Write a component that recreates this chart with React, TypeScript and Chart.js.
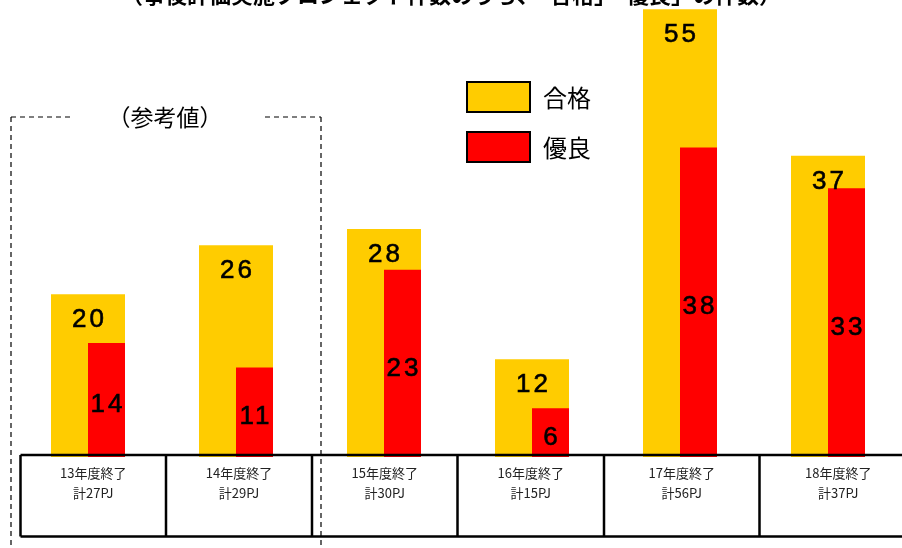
import { useEffect, useRef } from 'react';
import { Chart, registerables } from 'chart.js';

Chart.register(...registerables);

// ---- data ----
const categories = ['13年度終了', '14年度終了', '15年度終了', '16年度終了', '17年度終了', '18年度終了'];
const totalProjects = [27, 29, 30, 15, 56, 37];
const passCounts = [20, 26, 28, 12, 55, 37];
const excellentCounts = [14, 11, 23, 6, 38, 33];
const seriesNames = ['合格', '優良'];
const titleText = '（事後評価実施プロジェクト件数のうち、「合格」「優良」の件数）';
const referenceNote = '（参考値）';

// ---- layout / style constants ----
const YELLOW = '#FFCC00';
const RED = '#FF0000';
const tableEdges = [20.5, 166, 312, 457.5, 604, 759.5, 917];
const JP = '"Noto Sans CJK JP", "Noto Sans", sans-serif';

const overlayPlugin = {
  id: 'overlay',
  afterDraw(chart: any) {
    const ctx: CanvasRenderingContext2D = chart.ctx;
    ctx.save();

    // title (mostly cut off at top)
    ctx.fillStyle = '#000';
    ctx.font = `bold 22px ${JP}`;
    ctx.textAlign = 'center';
    ctx.textBaseline = 'alphabetic';
    ctx.fillText(titleText, 451, 3);

    // value labels
    const redMeta = chart.getDatasetMeta(1);
    const yellowMeta = chart.getDatasetMeta(2);
    ctx.font = '26px "Liberation Sans", Arial, sans-serif';
    (ctx as any).letterSpacing = '3px';
    ctx.textAlign = 'center';
    ctx.textBaseline = 'middle';
    ctx.strokeStyle = '#000';
    ctx.lineWidth = 0.6;
    const label = (t: string, x: number, y: number) => {
      ctx.fillText(t, x, y);
      ctx.strokeText(t, x, y);
    };
    yellowMeta.data.forEach((el: any, i: number) => {
      label(String(passCounts[i]), el.x + 1.5, el.y + 26);
    });
    redMeta.data.forEach((el: any, i: number) => {
      label(String(excellentCounts[i]), el.x + 1.5, (el.y + el.base) / 2 + 5);
    });
    (ctx as any).letterSpacing = '0px';

    // table
    const top = 455;
    const bottom = 536.5;
    ctx.strokeStyle = '#000';
    ctx.lineWidth = 2.5;
    ctx.setLineDash([]);
    ctx.beginPath();
    ctx.moveTo(tableEdges[0], top);
    ctx.lineTo(902, top);
    ctx.moveTo(tableEdges[0], bottom);
    ctx.lineTo(902, bottom);
    tableEdges.forEach((x) => {
      ctx.moveTo(x, top);
      ctx.lineTo(x, bottom);
    });
    ctx.stroke();

    ctx.fillStyle = '#222';
    ctx.font = `13px ${JP}`;
    ctx.textAlign = 'center';
    ctx.textBaseline = 'middle';
    categories.forEach((c, i) => {
      const cx = (tableEdges[i] + tableEdges[i + 1]) / 2;
      ctx.fillText(c, cx, 473);
      ctx.fillText(`計${totalProjects[i]}PJ`, cx, 493);
    });

    // reference dashed frame
    ctx.strokeStyle = '#000';
    ctx.lineWidth = 1.2;
    ctx.setLineDash([5, 4]);
    ctx.beginPath();
    ctx.moveTo(11, 117);
    ctx.lineTo(70, 117);
    ctx.moveTo(265, 117);
    ctx.lineTo(321, 117);
    ctx.moveTo(11, 117);
    ctx.lineTo(11, 548);
    ctx.moveTo(321, 117);
    ctx.lineTo(321, 548);
    ctx.stroke();
    ctx.setLineDash([]);

    ctx.fillStyle = '#000';
    ctx.font = `23px ${JP}`;
    ctx.textAlign = 'center';
    ctx.fillText(referenceNote, 165, 117);

    // legend
    const boxes = [
      { color: YELLOW, y: 82, label: seriesNames[0] },
      { color: RED, y: 132, label: seriesNames[1] },
    ];
    ctx.lineWidth = 2;
    ctx.strokeStyle = '#000';
    ctx.font = `24px ${JP}`;
    ctx.textAlign = 'left';
    boxes.forEach((b) => {
      ctx.fillStyle = b.color;
      ctx.fillRect(467, b.y, 63, 30);
      ctx.strokeRect(467, b.y, 63, 30);
      ctx.fillStyle = '#000';
      ctx.fillText(b.label, 543, b.y + 16);
    });

    ctx.restore();
  },
};

export default function App() {
  const ref = useRef<HTMLCanvasElement>(null);

  useEffect(() => {
    document.body.style.margin = '0';
    const chart = new Chart(ref.current!, {
      type: 'bar',
      data: {
        labels: categories,
        datasets: [
          {
            label: 'spacer',
            data: categories.map(() => null),
            backgroundColor: 'rgba(0,0,0,0)',
            borderWidth: 0,
            grouped: true,
            categoryPercentage: 0.5,
            barPercentage: 1,
            order: 0,
          } as any,
          {
            label: seriesNames[1],
            data: excellentCounts,
            backgroundColor: RED,
            borderWidth: 0,
            grouped: true,
            categoryPercentage: 0.5,
            barPercentage: 1,
            order: 1,
          },
          {
            label: seriesNames[0],
            data: passCounts,
            backgroundColor: YELLOW,
            borderWidth: 0,
            grouped: false,
            categoryPercentage: 1,
            barPercentage: 0.5,
            order: 2,
          },
        ],
      },
      options: {
        animation: false,
        responsive: true,
        maintainAspectRatio: false,
        events: [],
        layout: { padding: { left: 14, right: 0, top: 1, bottom: 91 } },
        plugins: {
          legend: { display: false },
          tooltip: { enabled: false },
          title: { display: false },
        },
        scales: {
          x: { display: false, offset: true },
          y: { display: false, min: 0, max: 56 },
        },
      },
      plugins: [overlayPlugin],
    });
    return () => chart.destroy();
  }, []);

  return (
    <div style={{ position: 'absolute', left: 0, top: 0, width: 902, height: 548 }}>
      <canvas ref={ref} />
    </div>
  );
}
